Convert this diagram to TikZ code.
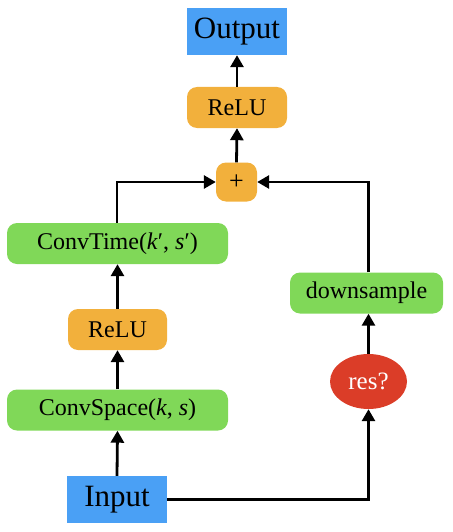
\documentclass[tikz,border=0pt]{standalone}
\usepackage{fontspec}
\setmainfont{Liberation Serif}
\usetikzlibrary{arrows.meta,shapes.geometric}
\definecolor{cblue}{RGB}{74,160,245}
\definecolor{corange}{RGB}{242,176,60}
\definecolor{cgreen}{RGB}{128,216,88}
\definecolor{cred}{RGB}{219,61,40}
\begin{document}
\begin{tikzpicture}[x=1pt,y=-1pt,
  io/.style={fill=cblue,inner sep=0pt,minimum width=100pt,minimum height=47pt,font=\fontsize{31}{33}\selectfont},
  act/.style={fill=corange,rounded corners=10pt,inner sep=0pt,minimum height=41pt,font=\fontsize{24}{26}\selectfont},
  layer/.style={fill=cgreen,rounded corners=10pt,inner sep=0pt,minimum height=41pt,font=\fontsize{24}{26}\selectfont},
  cond/.style={ellipse,fill=cred,inner sep=0pt,minimum width=77pt,minimum height=55pt,text=white,font=\fontsize{25}{27}\selectfont},
  arr/.style={line width=2.8pt,-{Triangle[length=12pt,width=13pt]}}]
\useasboundingbox (0,0) rectangle (452,532);
\node[io] (output) at (237,31.5) {Output};
\node[act,minimum width=100pt] (relu2) at (237,107.5) {ReLU};
\node[act,minimum width=41pt,minimum height=39pt,font=\fontsize{26}{28}\selectfont] (plus) at (236.5,182) {+};
\node[layer,minimum width=221pt] (convtime) at (117.5,243.5) {ConvTime(\textit{k}′, \textit{s}′)};
\node[act,minimum width=99pt] (relu1) at (117.5,329.5) {ReLU};
\node[layer,minimum width=221pt] (convspace) at (117.5,410) {ConvSpace(\textit{k}, \textit{s})};
\node[io] (input) at (117,499.5) {Input};
\node[layer,minimum width=153pt] (down) at (366.5,293) {downsample};
\node[cond] (res) at (368.5,381.5) {res?};
\draw[arr] (input.north) -- (convspace.south);
\draw[arr] (convspace.north) -- (relu1.south);
\draw[arr] (relu1.north) -- (convtime.south);
\draw[arr] (convtime.north -| input.north) |- (plus.west);
\draw[arr] (input.east) -| (res.south);
\draw[arr] (res.north) -- (res.north |- down.south);
\draw[arr] (res.north |- down.north) |- (plus.east);
\draw[arr] (plus.north) -- (relu2.south);
\draw[arr] (relu2.north) -- (output.south);
\end{tikzpicture}
\end{document}
